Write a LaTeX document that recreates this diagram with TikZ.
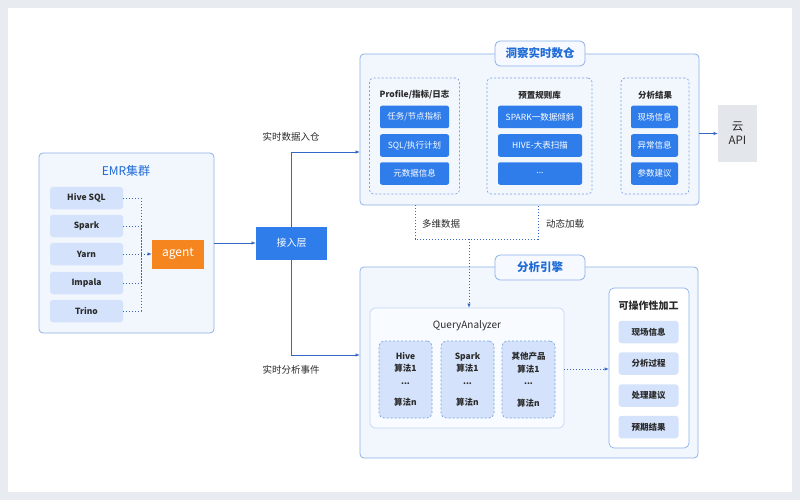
\documentclass[tikz,border=0pt]{standalone}
\usepackage{fontspec}
\setmainfont{Noto Sans CJK SC}
\usetikzlibrary{arrows.meta}
\definecolor{pblue}{HTML}{2F7DEB}
\definecolor{lblue}{HTML}{D4E3FB}
\definecolor{cfill}{HTML}{F2F6FD}
\definecolor{cborder}{HTML}{8DB2EA}
\definecolor{tabfill}{HTML}{F6F9FF}
\definecolor{titleblue}{HTML}{1E6BD6}
\definecolor{linec}{HTML}{3567C8}
\definecolor{dashc}{HTML}{7DA3E0}
\definecolor{darktxt}{HTML}{2A2A2A}
\definecolor{orangeb}{HTML}{F5861F}
\definecolor{apigray}{HTML}{E3E6EB}
\definecolor{framegray}{HTML}{E8EBEF}
\definecolor{innerfill}{HTML}{F8FBFF}
\definecolor{innerborder}{HTML}{C3D6F3}
\tikzset{
  every node/.style={inner sep=0pt, outer sep=0pt},
  container/.style={draw=cborder, fill=cfill, rounded corners=4pt, line width=0.8pt},
  tabbox/.style={draw=cborder, fill=tabfill, rounded corners=5pt, line width=0.8pt, text=titleblue,
    font=\fontsize{11.5}{13}\selectfont\bfseries, minimum width=90pt, minimum height=25pt},
  bluebox/.style={fill=pblue, text=white, rounded corners=2pt, minimum height=22.5pt,
    font=\fontsize{8.5}{10}\selectfont},
  litem/.style={fill=lblue, text=darktxt, rounded corners=3pt, minimum height=22.5pt,
    font=\fontsize{8.5}{10}\selectfont\bfseries},
  dgroup/.style={draw=dashc, dash pattern=on 2pt off 2pt, rounded corners=4pt, line width=0.7pt},
  gtitle/.style={text=darktxt, font=\fontsize{8.5}{10}\selectfont\bfseries},
  lbl/.style={text=darktxt, font=\fontsize{9.5}{11}\selectfont},
  conn/.style={draw=linec, line width=0.8pt, -{Latex[length=4.5pt,width=3.5pt]}},
  dotc/.style={draw=linec, line width=0.8pt, dash pattern=on 1.4pt off 1.6pt},
  dota/.style={dotc, -{Latex[length=4.5pt,width=3.5pt]}},
  innerbox/.style={draw=innerborder, fill=innerfill, rounded corners=5pt, line width=0.7pt},
  algbox/.style={draw=dashc, fill=lblue, dash pattern=on 2pt off 2pt, rounded corners=5pt,
    line width=0.7pt, minimum width=53pt, minimum height=77pt},
  algtxt/.style={text=darktxt, align=center, font=\fontsize{8.5}{12.5}\selectfont\bfseries},
}
\begin{document}
\begin{tikzpicture}[x=1pt,y=-1pt]
\fill[framegray] (0,0) rectangle (800,500);
\fill[white] (8,8) rectangle (792,492);

% EMR cluster
\node[container, minimum width=175pt, minimum height=180pt] (emr) at (126.5,243) {};
\node[text=titleblue, font=\fontsize{12}{14}\selectfont] (emrt) at (126,171) {EMR集群};
\node[litem, minimum width=73pt] (hive) at (86.5,198) {Hive SQL};
\node[litem, minimum width=73pt] (spark) at (86.5,226) {Spark};
\node[litem, minimum width=73pt] (yarn) at (86.5,254) {Yarn};
\node[litem, minimum width=73pt] (impala) at (86.5,283) {Impala};
\node[litem, minimum width=73pt] (trino) at (86.5,311) {Trino};
\node[fill=orangeb, text=white, minimum width=52pt, minimum height=29pt,
  font=\fontsize{12}{14}\selectfont] (agent) at (178,254) {agent};
\coordinate (jn) at (141,254);
\draw[dotc] (hive.east) -| (jn);
\draw[dotc] (spark.east) -| (jn);
\draw[dotc] (impala.east) -| (jn);
\draw[dotc] (trino.east) -| (jn);
\draw[dota] (yarn.east) -- (agent.west);

% access layer
\node[fill=pblue, text=white, minimum width=71pt, minimum height=33pt,
  font=\fontsize{10}{12}\selectfont] (acc) at (291.5,243) {接入层};
\draw[conn] (emr.east |- acc) -- (acc.west);

% warehouse
\node[container, minimum width=339pt, minimum height=151pt] (dwh) at (529.5,129.5) {};
\node[tabbox] (dwht) at (540,53.5) {洞察实时数仓};

\node[dgroup, minimum width=90pt, minimum height=116pt] (g1) at (414.5,136) {};
\node[gtitle] (g1t) at (414.5,95) {Profile/指标/日志};
\node[bluebox, minimum width=69pt] (a1) at (414.5,117) {任务/节点指标};
\node[bluebox, minimum width=69pt] (a2) at (414.5,145.5) {SQL/执行计划};
\node[bluebox, minimum width=69pt] (a3) at (414.5,173.5) {元数据信息};

\node[dgroup, minimum width=105pt, minimum height=116pt] (g2) at (539.5,136) {};
\node[gtitle] (g2t) at (539.5,95) {预置规则库};
\node[bluebox, minimum width=84pt] (b1) at (540,117) {SPARK一数据倾斜};
\node[bluebox, minimum width=84pt] (b2) at (540,145.5) {HIVE-大表扫描};
\node[bluebox, minimum width=84pt] (b3) at (540,173.5) {...};

\node[dgroup, minimum width=68pt, minimum height=116pt] (g3) at (655,136) {};
\node[gtitle] (g3t) at (655,95) {分析结果};
\node[bluebox, minimum width=47pt] (c1) at (654.5,117) {现场信息};
\node[bluebox, minimum width=47pt] (c2) at (654.5,145.5) {异常信息};
\node[bluebox, minimum width=47pt] (c3) at (654.5,173.5) {参数建议};

% API
\node[fill=apigray, text=darktxt, minimum width=39pt, minimum height=57pt, align=center,
  font=\fontsize{11.5}{14}\selectfont] (api) at (737.5,133.5) {云\\API};
\draw[conn] (dwh.east |- api) -- (api.west);

% access -> warehouse / engine
\coordinate (dwin) at (360,152);
\draw[conn] (acc.north) |- (dwin);
\node[lbl] (l1) at (291,137) {实时数据入仓};

% engine
\node[container, minimum width=338pt, minimum height=191pt] (eng) at (529,362.5) {};
\node[tabbox] (engt) at (540,267.5) {分析引擎};
\coordinate (engin) at (360,355);
\draw[conn] (acc.south) |- (engin);
\node[lbl] (l2) at (291,370) {实时分析事件};

% QueryAnalyzer
\node[innerbox, minimum width=194pt, minimum height=120pt] (qa) at (467,368) {};
\node[text=darktxt, font=\fontsize{10}{12}\selectfont] (qat) at (467,326) {QueryAnalyzer};
\node[algbox] (q1) at (405.5,379.5) {};
\node[algbox] (q2) at (467.5,379.5) {};
\node[algbox] (q3) at (528.5,379.5) {};
\node[algtxt] (q1t) at (q1) {Hive\\算法1\\...\\[9pt]算法n};
\node[algtxt] (q2t) at (q2) {Spark\\算法1\\...\\[9pt]算法n};
\node[algtxt] (q3t) at (q3) {其他产品\\算法1\\...\\[9pt]算法n};

% multi-dim data
\coordinate (m1) at (415,239);
\coordinate (m2) at (538,239);
\coordinate (mm) at (469,239);
\draw[dotc] (m1 |- dwh.south) -- (m1) -- (m2) -- (m2 |- dwh.south);
\draw[dota] (mm) -- (mm |- qa.north);
\node[lbl] (l3) at (441,224) {多维数据};
\node[lbl] (l4) at (565,224) {动态加载};

% operable
\node[innerbox, fill=white, draw=cborder, minimum width=80pt, minimum height=160pt] (op) at (649,368) {};
\node[gtitle, font=\fontsize{10}{12}\selectfont\bfseries] (opt) at (648.5,306) {可操作性加工};
\node[litem, minimum width=60pt] (o1) at (648.5,332) {现场信息};
\node[litem, minimum width=60pt] (o2) at (648.5,363.5) {分析过程};
\node[litem, minimum width=60pt] (o3) at (648.5,395.5) {处理建议};
\node[litem, minimum width=60pt] (o4) at (648.5,427) {预期结果};
\draw[dota] (qa.east |- 0,369) -- (op.west |- 0,369);
\end{tikzpicture}
\end{document}
